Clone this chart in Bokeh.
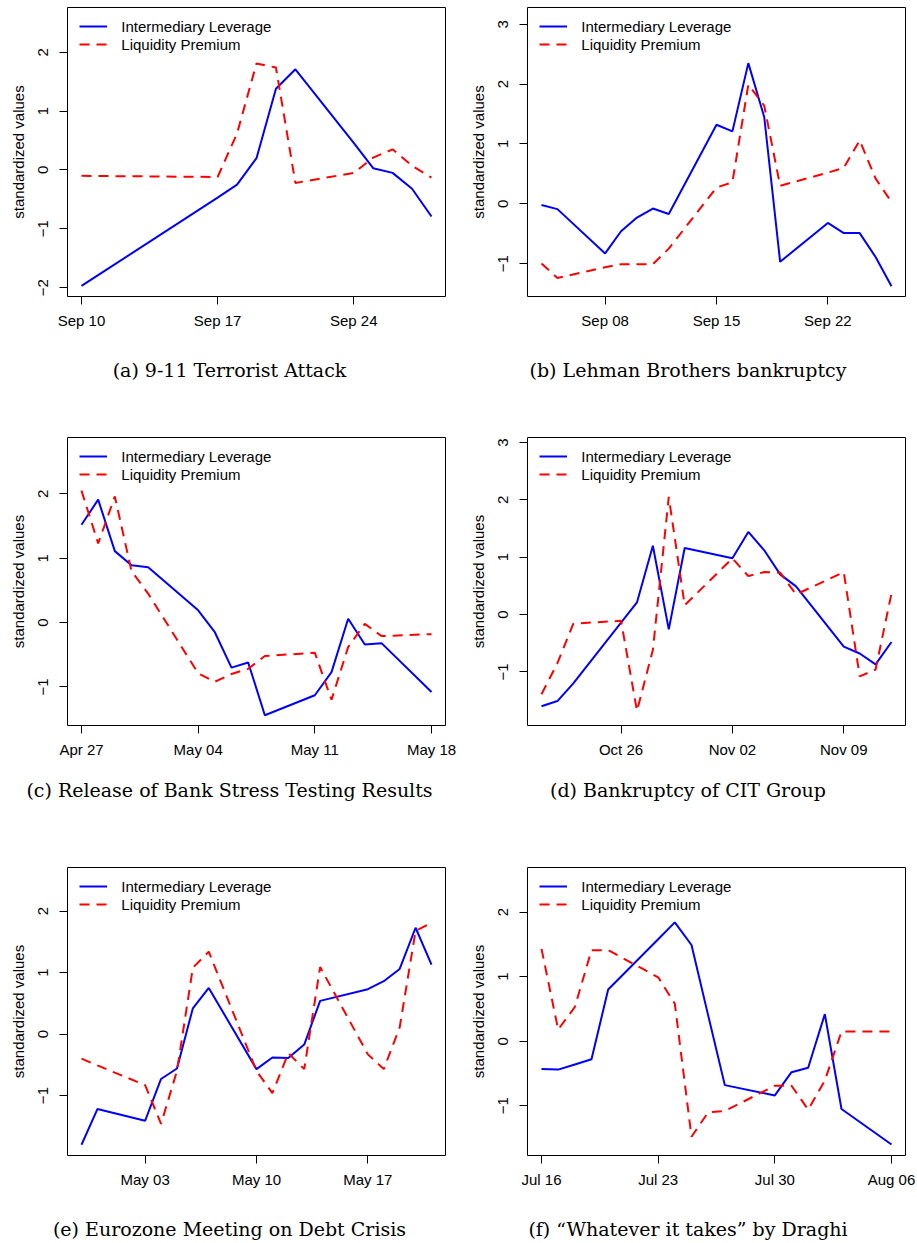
import pandas as pd
from bokeh.plotting import figure
from bokeh.models import (Range1d, FixedTicker, DatetimeTickFormatter,
                          Legend, LegendItem, Div)
from bokeh.layouts import column, row
from bokeh.embed import file_html
from bokeh.resources import INLINE

# ---------------- data ----------------
dates_a = ["2001-09-10", "2001-09-17", "2001-09-18", "2001-09-19", "2001-09-20",
           "2001-09-21", "2001-09-24", "2001-09-25", "2001-09-26", "2001-09-27",
           "2001-09-28"]
lev_a = [-1.97, -0.47, -0.25, 0.20, 1.38, 1.71, 0.46, 0.03, -0.05, -0.32, -0.79]
liq_a = [-0.10, -0.12, 0.62, 1.81, 1.74, -0.22, -0.05, 0.21, 0.35, 0.07, -0.13]
ticks_a = ["2001-09-10", "2001-09-17", "2001-09-24"]

dates_b = ["2008-09-04", "2008-09-05", "2008-09-08", "2008-09-09", "2008-09-10",
           "2008-09-11", "2008-09-12", "2008-09-15", "2008-09-16", "2008-09-17",
           "2008-09-18", "2008-09-19", "2008-09-22", "2008-09-23", "2008-09-24",
           "2008-09-25", "2008-09-26"]
lev_b = [-0.02, -0.09, -0.83, -0.46, -0.23, -0.08, -0.17, 1.32, 1.21, 2.35,
         1.45, -0.97, -0.32, -0.49, -0.49, -0.89, -1.38]
liq_b = [-1.00, -1.24, -1.06, -1.01, -1.01, -1.01, -0.75, 0.27, 0.36, 1.99,
         1.64, 0.30, 0.52, 0.60, 1.06, 0.42, 0.03]
ticks_b = ["2008-09-08", "2008-09-15", "2008-09-22"]

dates_c = ["2009-04-27", "2009-04-28", "2009-04-29", "2009-04-30", "2009-05-01",
           "2009-05-04", "2009-05-05", "2009-05-06", "2009-05-07", "2009-05-08",
           "2009-05-11", "2009-05-12", "2009-05-13", "2009-05-14", "2009-05-15",
           "2009-05-18"]
lev_c = [1.52, 1.91, 1.11, 0.89, 0.86, 0.19, -0.15, -0.70, -0.62, -1.44,
         -1.13, -0.77, 0.06, -0.34, -0.32, -1.08]
liq_c = [2.05, 1.23, 1.96, 0.80, 0.45, -0.79, -0.92, -0.80, -0.72, -0.52,
         -0.47, -1.20, -0.38, -0.02, -0.21, -0.18]
ticks_c = ["2009-04-27", "2009-05-04", "2009-05-11", "2009-05-18"]

dates_d = ["2009-10-21", "2009-10-22", "2009-10-23", "2009-10-26", "2009-10-27",
           "2009-10-28", "2009-10-29", "2009-10-30", "2009-11-02", "2009-11-03",
           "2009-11-04", "2009-11-05", "2009-11-06", "2009-11-09", "2009-11-10",
           "2009-11-11", "2009-11-12"]
lev_d = [-1.60, -1.51, -1.20, -0.14, 0.21, 1.20, -0.26, 1.16, 0.98, 1.44,
         1.12, 0.70, 0.49, -0.56, -0.68, -0.87, -0.48]
liq_d = [-1.39, -0.85, -0.16, -0.11, -1.68, -0.62, 2.05, 0.16, 0.98, 0.67,
         0.74, 0.73, 0.35, 0.74, -1.08, -0.96, 0.37]
ticks_d = ["2009-10-26", "2009-11-02", "2009-11-09"]

dates_e = ["2010-04-29", "2010-04-30", "2010-05-03", "2010-05-04", "2010-05-05",
           "2010-05-06", "2010-05-07", "2010-05-10", "2010-05-11", "2010-05-12",
           "2010-05-13", "2010-05-14", "2010-05-17", "2010-05-18", "2010-05-19",
           "2010-05-20", "2010-05-21"]
lev_e = [-1.80, -1.22, -1.41, -0.73, -0.56, 0.42, 0.75, -0.57, -0.38, -0.39,
         -0.17, 0.54, 0.73, 0.86, 1.06, 1.73, 1.13]
liq_e = [-0.40, -0.51, -0.83, -1.46, -0.60, 1.08, 1.34, -0.60, -0.96, -0.31,
         -0.57, 1.09, -0.33, -0.57, 0.11, 1.68, 1.81]
ticks_e = ["2010-05-03", "2010-05-10", "2010-05-17"]

dates_f = ["2012-07-16", "2012-07-17", "2012-07-18", "2012-07-19", "2012-07-20",
           "2012-07-23", "2012-07-24", "2012-07-25", "2012-07-26", "2012-07-27",
           "2012-07-30", "2012-07-31", "2012-08-01", "2012-08-02", "2012-08-03",
           "2012-08-06"]
lev_f = [-0.43, -0.44, -0.36, -0.28, 0.80, 1.58, 1.84, 1.49, 0.40, -0.68,
         -0.84, -0.48, -0.41, 0.42, -1.05, -1.60]
liq_f = [1.43, 0.18, 0.53, 1.41, 1.41, 0.99, 0.58, -1.48, -1.10, -1.08,
         -0.69, -0.69, -1.06, -0.61, 0.15, 0.15]
ticks_f = ["2012-07-16", "2012-07-23", "2012-07-30", "2012-08-06"]

series_names = ["Intermediary Leverage", "Liquidity Premium"]
y_label = "standardized values"

captions = ["(a) 9-11 Terrorist Attack",
            "(b) Lehman Brothers bankruptcy",
            "(c) Release of Bank Stress Testing Results",
            "(d) Bankruptcy of CIT Group",
            "(e) Eurozone Meeting on Debt Crisis",
            "(f) \u201cWhatever it takes\u201d by Draghi"]

yticks_list = [[-2, -1, 0, 1, 2], [-1, 0, 1, 2, 3], [-1, 0, 1, 2],
               [-1, 0, 1, 2, 3], [-1, 0, 1, 2], [-1, 0, 1, 2]]
ylims = [(-2.15, 2.76), (-1.55, 3.28), (-1.60, 2.876),
         (-1.936, 3.087), (-1.975, 2.71), (-1.77, 2.69)]

# ---------------- layout constants ----------------
FRAME_W = 378
col_width = [459, 458]
col_border_left = [67, 68]
row_fig_height = [359, 359, 378]
row_border_top = [7, 17, 27]
row_frame_h = [289, 288, 288]
row_div_height = [61, 61, 24]

SANS = "Liberation Sans"
FS = "15px"


def minus(v):
    return str(v).replace("-", "\u2212")


def make_panel(i, dates, lev, liq, ticks):
    r_i, c_i = divmod(i, 2)
    x = pd.to_datetime(dates)
    pad = (x[-1] - x[0]) * 0.04
    xr = Range1d((x[0] - pad).to_pydatetime(), (x[-1] + pad).to_pydatetime())
    yr = Range1d(*ylims[i])
    W = col_width[c_i]
    H = row_fig_height[r_i]
    FH = row_frame_h[r_i]
    bl = col_border_left[c_i]
    br = W - bl - FRAME_W
    bt = row_border_top[r_i]
    bb = H - bt - FH
    p = figure(width=W, height=H, x_axis_type="datetime", x_range=xr, y_range=yr,
               output_backend="svg", toolbar_location=None,
               min_border_left=bl, min_border_right=br,
               min_border_top=bt, min_border_bottom=bb)
    p.xgrid.visible = False
    p.ygrid.visible = False
    p.outline_line_color = "black"
    p.outline_line_width = 1
    p.outline_line_alpha = 1
    p.background_fill_color = "white"
    p.border_fill_color = "white"

    tick_ms = [pd.Timestamp(t).value / 1e6 for t in ticks]
    p.xaxis.ticker = FixedTicker(ticks=tick_ms)
    p.xaxis.formatter = DatetimeTickFormatter(
        days="%b %d", months="%b %d", years="%b %d", hours="%b %d",
        minutes="%b %d", seconds="%b %d", milliseconds="%b %d",
        microseconds="%b %d", hourmin="%b %d", minsec="%b %d",
        strip_leading_zeros=False)
    yt = yticks_list[i]
    p.yaxis.ticker = FixedTicker(ticks=yt)
    p.yaxis.major_label_overrides = {v: minus(v) for v in yt}
    p.yaxis.major_label_orientation = "vertical"
    p.yaxis.axis_label = y_label

    for ax in (p.xaxis[0], p.yaxis[0]):
        ax.axis_line_color = None
        ax.major_tick_out = 8
        ax.major_tick_in = 0
        ax.minor_tick_out = 0
        ax.minor_tick_in = 0
        ax.major_tick_line_color = "black"
        ax.major_tick_line_width = 1
        ax.major_label_text_font = SANS
        ax.major_label_text_font_size = FS
        ax.major_label_text_color = "black"
        ax.axis_label_text_font = SANS
        ax.axis_label_text_font_size = FS
        ax.axis_label_text_font_style = "normal"
        ax.axis_label_text_color = "black"
    p.xaxis.major_label_standoff = 7
    p.yaxis.major_label_standoff = 11
    p.yaxis.axis_label_standoff = 9

    r1 = p.line(x, lev, line_color="#0000FF", line_width=2)
    r2 = p.line(x, liq, line_color="#FF0000", line_width=2, line_dash="10 7")

    legend = Legend(items=[LegendItem(label=series_names[0], renderers=[r1]),
                           LegendItem(label=series_names[1], renderers=[r2])],
                    location=(12.3, FH - 10 - 36),
                    border_line_color=None, background_fill_alpha=0,
                    padding=0, margin=0, spacing=0,
                    glyph_width=28, glyph_height=18, label_height=18,
                    label_standoff=14,
                    label_text_font=SANS, label_text_font_size=FS,
                    label_text_color="black")
    p.add_layout(legend)

    cap = Div(text=captions[i], width=W, height=row_div_height[r_i], margin=0,
              styles={"font-family": "DejaVu Serif", "font-size": "19px",
                      "line-height": "22px", "text-align": "center",
                      "color": "black", "white-space": "nowrap"})
    return column(p, cap, spacing=0)


cells = [
    make_panel(0, dates_a, lev_a, liq_a, ticks_a),
    make_panel(1, dates_b, lev_b, liq_b, ticks_b),
    make_panel(2, dates_c, lev_c, liq_c, ticks_c),
    make_panel(3, dates_d, lev_d, liq_d, ticks_d),
    make_panel(4, dates_e, lev_e, liq_e, ticks_e),
    make_panel(5, dates_f, lev_f, liq_f, ticks_f),
]

layout = column(row(cells[0], cells[1], spacing=0),
                row(cells[2], cells[3], spacing=0),
                row(cells[4], cells[5], spacing=0), spacing=0)

open("out.html", "w").write(file_html(layout, INLINE))
